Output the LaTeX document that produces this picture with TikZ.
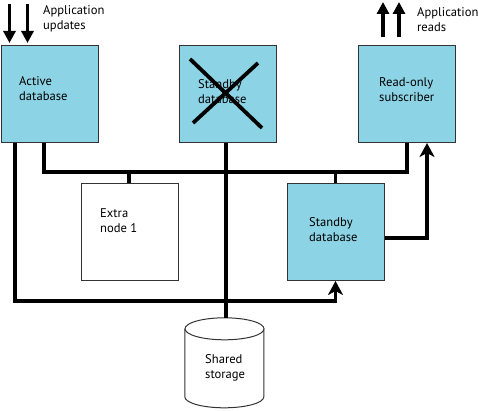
\documentclass[tikz,border=0pt]{standalone}
\usepackage{fontspec}
\setmainfont{PT Sans}
\usetikzlibrary{arrows.meta,calc}
\definecolor{boxblue}{HTML}{8CD3E5}
\definecolor{edge}{HTML}{333333}
\tikzset{
  box/.style={draw=edge, line width=1pt, minimum width=97pt, minimum height=97pt, inner sep=0pt},
  bluebox/.style={box, fill=boxblue},
  whitebox/.style={box, fill=white},
  txt/.style={anchor=west, align=left, inner sep=0pt, font=\fontsize{12.6}{15}\selectfont},
  bus/.style={line width=3.8pt, line join=miter},
  downarr/.style={line width=3.6pt, -{Triangle[length=12pt,width=12pt]}},
  uparr/.style={line width=3.8pt, -{Stealth[length=14pt,width=15pt,inset=4pt]}},
  cross/.style={line width=3.8pt},
  cyl/.style={draw=edge, line width=1pt, fill=white}
}
\begin{document}
\begin{tikzpicture}[x=1pt,y=-1pt]
\useasboundingbox (0,0) rectangle (478,411);
% boxes
\node[bluebox] (active) at (49.5,94) {};
\node[bluebox] (standbyA) at (228,94) {};
\node[bluebox] (readonly) at (407,94) {};
\node[whitebox] (extra) at (130,232) {};
\node[bluebox] (standbyB) at (335.5,232) {};
% cylinder (shared storage)
\node[minimum width=79pt, minimum height=90pt, inner sep=0pt] (storage) at (224.5,363) {};
\draw[cyl] (storage.north west) ++(0,11) -- ++(0,68) arc[start angle=180, end angle=360, x radius=39.5pt, y radius=11pt] -- ++(0,-68);
\draw[cyl] ($(storage.north)+(0,11)$) ellipse[x radius=39.5pt, y radius=11pt];
% texts
\node[txt] (tupd) at (43,18.5) {Application\\updates};
\node[txt] (treads) at (417,19.5) {Application\\reads};
\node[txt] (tactive) at (19,88.5) {Active\\database};
\node[txt] (tstandbyA) at (198,91.5) {Standby\\database};
\node[txt] (treadonly) at (379,89.5) {Read-only\\subscriber};
\node[txt] (textra) at (100,220.5) {Extra\\node 1};
\node[txt] (tstandbyB) at (309,229.5) {Standby\\database};
\node[txt] (tstorage) at (205,367.5) {Shared\\storage};
% cross over failed standby
\draw[cross] (190,59) -- (262,128);
\draw[cross] (193,123) -- (258,63);
% bus
\coordinate (busL) at (44,172);
\coordinate (busR) at (407,172);
\coordinate (vx) at (226,172);
\draw[bus] (active.south -| busL) -- (busL) -- (busR) -- (readonly.south -| busR);
\draw[bus] (extra.north -| 129,0) -- (busL -| 129,0);
\draw[bus] (standbyB.north) -- (standbyB.north |- busL);
\draw[bus] (standbyA.south -| vx) -- (storage.north -| vx);
% lower loop to standby
\coordinate (loopL) at (15,301);
\draw[bus, uparr] (active.south -| loopL) -- (loopL) -| (standbyB.south);
% standby to read-only
\coordinate (rt) at (427,238);
\draw[bus, uparr] (standbyB.east |- rt) -- (rt) -- (readonly.south -| rt);
% application arrows
\coordinate (u1) at (9.5,4);
\coordinate (u2) at (27.5,4);
\draw[downarr, shorten >=2pt] (u1) -- (active.north -| u1);
\draw[downarr, shorten >=2pt] (u2) -- (active.north -| u2);
\coordinate (r1) at (383,2);
\coordinate (r2) at (399,2);
\draw[downarr, shorten <=8pt] (readonly.north -| r1) -- (r1);
\draw[downarr, shorten <=8pt] (readonly.north -| r2) -- (r2);
\end{tikzpicture}
\end{document}
